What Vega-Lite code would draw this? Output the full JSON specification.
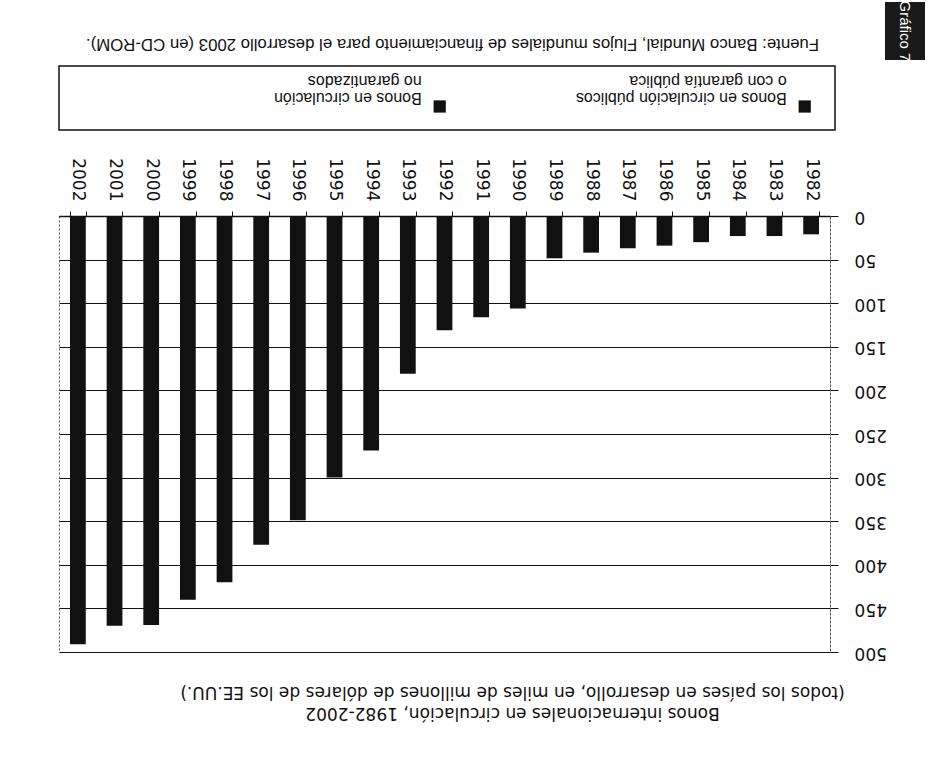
{
  "$schema": "https://vega.github.io/schema/vega-lite/v6.json",
  "padding": {"left": 50, "top": 0, "right": 0, "bottom": 0},
  "background": "white",
  "config": {
    "font": "DejaVu Sans",
    "view": {"stroke": null}
  },
  "spacing": 3,
  "vconcat": [
    {
      "spacing": 55,
      "hconcat": [
        {
          "width": 771,
          "height": 58,
          "view": {"stroke": null},
          "data": {"values": [{"note": "Fuente: Banco Mundial, Flujos mundiales de financiamiento para el desarrollo 2003 (en CD-ROM)."}]},
          "mark": {"type": "text", "angle": 180, "align": "center", "baseline": "middle", "dx": -8, "dy": -13, "font": "Liberation Sans", "fontSize": 16.8, "color": "#111"},
          "encoding": {"text": {"field": "note", "type": "nominal"}}
        },
        {
          "width": 40,
          "height": 58,
          "view": {"stroke": null, "fill": "#1a1a1a"},
          "data": {"values": [{"label": "Gráfico 7"}]},
          "mark": {"type": "text", "angle": 90, "align": "center", "baseline": "middle", "font": "Liberation Sans", "fontSize": 15, "color": "white"},
          "encoding": {"text": {"field": "label", "type": "nominal"}}
        }
      ]
    },
    {
      "spacing": 26,
      "vconcat": [
        {
          "width": 776,
          "height": 64,
          "view": {"stroke": "#111", "strokeWidth": 1.5},
          "data": {"values": [
            {"serie": "Bonos en circulación públicos\no con garantía pública", "orden": 1},
            {"serie": "Bonos en circulación\nno garantizados", "orden": 2}
          ]},
          "encoding": {
            "x": {
              "field": "serie",
              "type": "nominal",
              "sort": {"field": "orden", "order": "descending"},
              "bandPosition": 0.98,
              "scale": {"type": "band", "paddingInner": 0, "paddingOuter": 0.063},
              "axis": null
            }
          },
          "layer": [
            {
              "mark": {"type": "point", "shape": "square", "filled": true, "size": 150, "color": "#111", "opacity": 1},
              "encoding": {"yOffset": {"value": 8.5}}
            },
            {
              "mark": {"type": "text", "angle": 180, "align": "left", "baseline": "middle", "dx": 18, "lineBreak": "\n", "lineHeight": 17, "font": "Liberation Sans", "fontSize": 16, "color": "#111"},
              "encoding": {"text": {"field": "serie", "type": "nominal"}}
            }
          ]
        },
        {
          "width": 771,
          "height": 436,
          "view": {"stroke": "#555", "strokeDash": [2, 2], "strokeWidth": 1},
          "title": {
            "text": ["Bonos internacionales en circulación, 1982-2002", "(todos los países en desarrollo, en miles de millones de dólares de los EE.UU.)"],
            "orient": "bottom",
            "anchor": "middle",
            "angle": 180,
            "align": "center",
            "baseline": "bottom",
            "offset": 43,
            "dx": -68,
            "font": "DejaVu Sans",
            "fontSize": 17,
            "fontWeight": "normal",
            "lineHeight": 21,
            "color": "#111"
          },
          "data": {"values": [
            {"year": 1982, "value": 21},
            {"year": 1983, "value": 23},
            {"year": 1984, "value": 23},
            {"year": 1985, "value": 30},
            {"year": 1986, "value": 34},
            {"year": 1987, "value": 37},
            {"year": 1988, "value": 42},
            {"year": 1989, "value": 48.5},
            {"year": 1990, "value": 106},
            {"year": 1991, "value": 116},
            {"year": 1992, "value": 131},
            {"year": 1993, "value": 181},
            {"year": 1994, "value": 269},
            {"year": 1995, "value": 300},
            {"year": 1996, "value": 349},
            {"year": 1997, "value": 377},
            {"year": 1998, "value": 420},
            {"year": 1999, "value": 440},
            {"year": 2000, "value": 469},
            {"year": 2001, "value": 470},
            {"year": 2002, "value": 491}
          ]},
          "mark": {"type": "bar", "color": "#111"},
          "encoding": {
            "x": {
              "field": "year",
              "type": "ordinal",
              "sort": "descending",
              "scale": {"paddingInner": 0.57, "paddingOuter": 0.3},
              "axis": {
                "orient": "top",
                "title": null,
                "labelAngle": 90,
                "labelAlign": "right",
                "labelBaseline": "middle",
                "labelFont": "DejaVu Sans",
                "labelFontSize": 17,
                "labelColor": "#111",
                "labelPadding": 10,
                "tickBand": "extent",
                "tickSize": 5,
                "tickColor": "#111",
                "domainColor": "#111",
                "domainWidth": 1.5,
                "grid": false
              }
            },
            "y": {
              "field": "value",
              "type": "quantitative",
              "scale": {"domain": [0, 500], "reverse": true, "nice": false},
              "axis": {
                "orient": "right",
                "title": null,
                "values": [0, 50, 100, 150, 200, 250, 300, 350, 400, 450, 500],
                "labelAngle": 180,
                "labelAlign": "right",
                "labelBaseline": "middle",
                "labelFont": "DejaVu Sans",
                "labelFontSize": 17,
                "labelColor": "#111",
                "labelPadding": 16,
                "tickSize": 8,
                "tickColor": "#111",
                "grid": true,
                "gridColor": "#111",
                "gridWidth": 1,
                "gridOpacity": 1,
                "domainColor": "#555",
                "domainDash": [2, 2]
              }
            }
          }
        }
      ]
    }
  ]
}
